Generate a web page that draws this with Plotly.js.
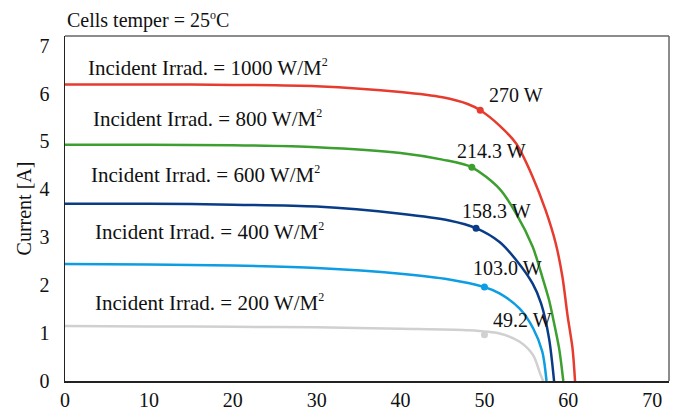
<!DOCTYPE html>
<html>
<head>
<meta charset="utf-8">
<script src="https://cdn.plot.ly/plotly-3.0.1.min.js"></script>
<style>html,body{margin:0;padding:0;background:#fff;}#chart{width:680px;height:410px;}</style>
</head>
<body>
<div id="chart"></div>
<script>
// Voltage [V] / current [A] samples
const v1000 = [0, 10, 20, 30, 40, 45, 48, 49.5, 51.8, 53.8, 55.75, 57.3, 58.5, 59.3, 59.9, 60.5, 60.8];
const i1000 = [6.19, 6.19, 6.18, 6.15, 6.03, 5.92, 5.78, 5.65, 5.33, 4.95, 4.26, 3.56, 2.87, 2.17, 1.375, 0.68, 0];
const v800 = [0, 10, 20, 30, 40, 45, 48.5, 51.8, 53.8, 55.75, 56.9, 57.7, 58.1, 58.9, 59.4];
const i800 = [4.93, 4.93, 4.92, 4.88, 4.76, 4.62, 4.46, 4.01, 3.49, 2.80, 2.17, 1.69, 1.375, 0.68, 0];
const v600 = [0, 10, 20, 30, 40, 45.8, 49.0, 51.8, 53.8, 55.75, 56.75, 57.7, 58.3];
const i600 = [3.70, 3.70, 3.68, 3.64, 3.49, 3.35, 3.19, 2.90, 2.52, 2.03, 1.62, 0.89, 0];
const v400 = [0, 10, 20, 30, 40, 45.8, 50.0, 51.8, 54.2, 55.8, 56.9, 57.4];
const i400 = [2.44, 2.43, 2.41, 2.36, 2.24, 2.12, 1.96, 1.83, 1.51, 1.10, 0.61, 0];
const v200 = [0, 10, 20, 30, 40, 47.8, 51.8, 54.2, 55.8, 56.7, 57.0];
const i200 = [1.15, 1.14, 1.13, 1.12, 1.09, 1.06, 0.99, 0.82, 0.54, 0.125, 0];
// Maximum power points
const mppV = [49.5, 48.5, 49.0, 50.0, 50.0];
const mppI = [5.65, 4.46, 3.19, 1.96, 0.965];
const mppLabels = ["270 W", "214.3 W", "158.3 W", "103.0 W", "49.2 W"];
const irradValues = ["1000", "800", "600", "400", "200"];
const colors = ["#e63b2e", "#3c9f30", "#083c86", "#0d9de2", "#d0d0d0"];
const xTicks = [0, 10, 20, 30, 40, 50, 60, 70];
const yTicks = [0, 1, 2, 3, 4, 5, 6, 7];

const vs = [v1000, v800, v600, v400, v200];
const is = [i1000, i800, i600, i400, i200];
const traces = [];
for (let k = 0; k < 5; k++) {
  traces.push({x: vs[k], y: is[k], mode: 'lines', type: 'scatter',
    line: {color: colors[k], width: 2.5, shape: 'spline', smoothing: 0.8}, hoverinfo: 'skip'});
}
for (let k = 0; k < 5; k++) {
  traces.push({x: [mppV[k]], y: [mppI[k]], mode: 'markers', type: 'scatter',
    marker: {color: colors[k], size: 7}, hoverinfo: 'skip'});
}
const fam = '"Liberation Serif", "Times New Roman", serif';
const font = {family: fam, size: 20, color: '#111'};
const font21 = {family: fam, size: 21, color: '#111'};
const ann = [];
const irrX = [17.0, 17.0, 16.7, 17.2, 17.2];
const irrY = [6.55, 5.47, 4.32, 3.13, 1.63];
for (let k = 0; k < 5; k++) {
  ann.push({x: irrX[k], y: irrY[k], xref: 'x', yref: 'y',
    text: 'Incident Irrad. = ' + irradValues[k] + ' W/M<sup><span style="font-size:12px">2</span></sup>',
    showarrow: false, font: font21});
}
const pX = [53.75, 50.9, 51.45, 52.7, 54.5];
const pY = [5.96, 4.80, 3.55, 2.35, 1.27];
for (let k = 0; k < 5; k++) {
  ann.push({x: pX[k], y: pY[k], xref: 'x', yref: 'y', text: mppLabels[k], showarrow: false, font: font});
}
ann.push({x: 0, y: 1.0, xref: 'paper', yref: 'paper', xanchor: 'left', yanchor: 'bottom', yshift: 2,
  text: 'Cells temper = 25<sup><span style="font-size:12px">o</span></sup>C', showarrow: false, font: font});

const layout = {
  width: 680, height: 410,
  margin: {l: 65, r: 11, t: 36, b: 29},
  showlegend: false,
  paper_bgcolor: '#fff', plot_bgcolor: '#fff',
  font: font,
  xaxis: {range: [0, 72], tickvals: xTicks, ticktext: xTicks.map(String), showgrid: false, zeroline: false,
    showline: true, linecolor: '#222', linewidth: 1.5, ticks: '', tickfont: font, automargin: false},
  yaxis: {range: [0, 7.2], tickvals: yTicks, ticktext: yTicks.map(String), showgrid: false, zeroline: false,
    showline: true, linecolor: '#222', linewidth: 1.5, ticks: '', tickfont: font, automargin: false,
    ticklabelstandoff: 10,
    title: {text: 'Current [A]', font: font, standoff: 2}},
  shapes: [
    {type: 'line', xref: 'paper', yref: 'paper', x0: 0, x1: 1, y0: 1, y1: 1, line: {color: '#666', width: 1.5}},
    {type: 'line', xref: 'paper', yref: 'paper', x0: 1, x1: 1, y0: 0, y1: 1, line: {color: '#666', width: 1.5}}
  ],
  annotations: ann
};
Plotly.newPlot('chart', traces, layout, {staticPlot: true});
</script>
</body>
</html>
